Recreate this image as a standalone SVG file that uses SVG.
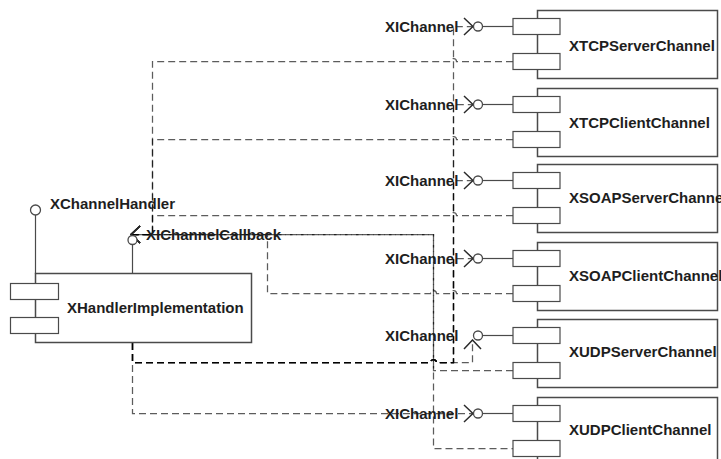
<svg xmlns="http://www.w3.org/2000/svg" width="721" height="459" viewBox="0 0 721 459">
  <style>
    .body { fill: #ffffff; stroke: #4a4a4a; stroke-width: 1.5; }
    .port { fill: #ffffff; stroke: #4a4a4a; stroke-width: 1.2; }
    .stem { fill: none; stroke: #4a4a4a; stroke-width: 1.2; }
    .ball { fill: #ffffff; stroke: #4a4a4a; stroke-width: 1.3; }
    .lbl  { font-family: "Liberation Sans", Arial, sans-serif; font-weight: bold; font-size: 15px; fill: #1e1e1e; }
    .dep  { fill: none; stroke: #000000; stroke-opacity: 0.64; stroke-width: 1.25; stroke-dasharray: 7 4; }
    .shift { stroke-dashoffset: 5.5; }
  </style>
  <defs>
    <!-- open arrowhead used by the dependency connectors -->
    <marker id="open-arrow" markerUnits="userSpaceOnUse" viewBox="0 0 11 19" refX="10" refY="9.5" markerWidth="11" markerHeight="19" orient="auto">
      <path d="M1,1 L10,9.5 L1,18" fill="none" stroke="#2a2a2a" stroke-width="1.5"/>
    </marker>
  </defs>

  <rect width="721" height="459" fill="#ffffff"/>

  <!-- dependency connectors -->
  <g id="connectors">
    <!-- XHandlerImplementation uses XIChannel of each channel -->
    <path class="dep" marker-end="url(#open-arrow)" d="M132.5,343 V362.5 H430.5 A3,3 0 0 1 436.5,362.5 H453.5 V26.5 H473"/>
    <path class="dep" marker-end="url(#open-arrow)" d="M132.5,343 V362.5 H430.5 A3,3 0 0 1 436.5,362.5 H453.5 V104.5 H473"/>
    <path class="dep" marker-end="url(#open-arrow)" d="M132.5,343 V362.5 H430.5 A3,3 0 0 1 436.5,362.5 H453.5 V180.5 H473"/>
    <path class="dep" marker-end="url(#open-arrow)" d="M132.5,343 V362.5 H430.5 A3,3 0 0 1 436.5,362.5 H453.5 V258.5 H473"/>
    <path class="dep" marker-end="url(#open-arrow)" d="M132.5,343 V362.5 H430.5 A3,3 0 0 1 436.5,362.5 H472.5 V340"/>
    <path class="dep" marker-end="url(#open-arrow)" d="M132.5,343 V413.5 H473"/>

    <!-- each channel uses XIChannelCallback of the handler -->
    <path class="dep" marker-end="url(#open-arrow)" d="M513,61.5 H456.5 A3,3 0 0 0 450.5,61.5 H152.5 V234.5 H131"/>
    <path class="dep" marker-end="url(#open-arrow)" d="M513,139.5 H456.5 A3,3 0 0 0 450.5,139.5 H152.5 V234.5 H131"/>
    <path class="dep" marker-end="url(#open-arrow)" d="M513,215.5 H456.5 A3,3 0 0 0 450.5,215.5 H152.5 V234.5 H131"/>
    <path class="dep" marker-end="url(#open-arrow)" d="M513,293.5 H456.5 A3,3 0 0 0 450.5,293.5 H436.5 A3,3 0 0 0 430.5,293.5 H267.5 V234.5 H131"/>
    <path class="dep" marker-end="url(#open-arrow)" d="M513,370.5 H433.5 V234.5 H131"/>
    <path class="dep shift" marker-end="url(#open-arrow)" d="M513,448.5 H433.5 V234.5 H131"/>
  </g>

  <!-- handler component -->
  <g id="XHandlerImplementation">
    <line class="stem" x1="35.5" y1="215" x2="35.5" y2="274"/>
    <circle class="ball" cx="35.5" cy="210" r="5"/>
    <line class="stem" x1="132.5" y1="244.5" x2="132.5" y2="274"/>
    <circle class="ball" cx="132.5" cy="240" r="4.5"/>
    <rect class="body" x="35.5" y="273.5" width="216" height="69"/>
    <rect class="port" x="10.5" y="283.5" width="48" height="16"/>
    <rect class="port" x="10.5" y="317.5" width="48" height="16"/>
    <text class="lbl" x="67" y="313">XHandlerImplementation</text>
    <text class="lbl" x="50" y="209">XChannelHandler</text>
    <text class="lbl" x="146" y="240">XIChannelCallback</text>
  </g>

  <!-- channel components -->
  <g id="XTCPServerChannel">
    <rect class="body" x="537.5" y="10.5" width="180" height="68"/>
    <rect class="port" x="513" y="18.5" width="47" height="16"/>
    <rect class="port" x="513" y="53.5" width="47" height="16"/>
    <line class="stem" x1="482.5" y1="26.5" x2="513" y2="26.5"/>
    <circle class="ball" cx="478" cy="26.5" r="4.5"/>
    <text class="lbl" x="569" y="51">XTCPServerChannel</text>
    <text class="lbl" x="385" y="32">XIChannel</text>
  </g>
  <g id="XTCPClientChannel">
    <rect class="body" x="537.5" y="88.5" width="180" height="68"/>
    <rect class="port" x="513" y="96.5" width="47" height="16"/>
    <rect class="port" x="513" y="131.5" width="47" height="16"/>
    <line class="stem" x1="482.5" y1="104.5" x2="513" y2="104.5"/>
    <circle class="ball" cx="478" cy="104.5" r="4.5"/>
    <text class="lbl" x="569" y="128">XTCPClientChannel</text>
    <text class="lbl" x="385" y="110">XIChannel</text>
  </g>
  <g id="XSOAPServerChannel">
    <rect class="body" x="537.5" y="164.5" width="180" height="68"/>
    <rect class="port" x="513" y="172.5" width="47" height="16"/>
    <rect class="port" x="513" y="207.5" width="47" height="16"/>
    <line class="stem" x1="482.5" y1="180.5" x2="513" y2="180.5"/>
    <circle class="ball" cx="478" cy="180.5" r="4.5"/>
    <text class="lbl" x="569" y="203">XSOAPServerChannel</text>
    <text class="lbl" x="385" y="186">XIChannel</text>
  </g>
  <g id="XSOAPClientChannel">
    <rect class="body" x="537.5" y="242.5" width="180" height="68"/>
    <rect class="port" x="513" y="250.5" width="47" height="16"/>
    <rect class="port" x="513" y="285.5" width="47" height="16"/>
    <line class="stem" x1="482.5" y1="258.5" x2="513" y2="258.5"/>
    <circle class="ball" cx="478" cy="258.5" r="4.5"/>
    <text class="lbl" x="569" y="281">XSOAPClientChannel</text>
    <text class="lbl" x="385" y="264">XIChannel</text>
  </g>
  <g id="XUDPServerChannel">
    <rect class="body" x="537.5" y="319.5" width="180" height="68"/>
    <rect class="port" x="513" y="327.5" width="47" height="16"/>
    <rect class="port" x="513" y="362.5" width="47" height="16"/>
    <line class="stem" x1="482.5" y1="335.5" x2="513" y2="335.5"/>
    <circle class="ball" cx="478" cy="335.5" r="4.5"/>
    <text class="lbl" x="569" y="357">XUDPServerChannel</text>
    <text class="lbl" x="385" y="341">XIChannel</text>
  </g>
  <g id="XUDPClientChannel">
    <rect class="body" x="537.5" y="397.5" width="180" height="68"/>
    <rect class="port" x="513" y="405.5" width="47" height="16"/>
    <rect class="port" x="513" y="440.5" width="47" height="16"/>
    <line class="stem" x1="482.5" y1="413.5" x2="513" y2="413.5"/>
    <circle class="ball" cx="478" cy="413.5" r="4.5"/>
    <text class="lbl" x="569" y="435">XUDPClientChannel</text>
    <text class="lbl" x="385" y="419">XIChannel</text>
  </g>
</svg>
